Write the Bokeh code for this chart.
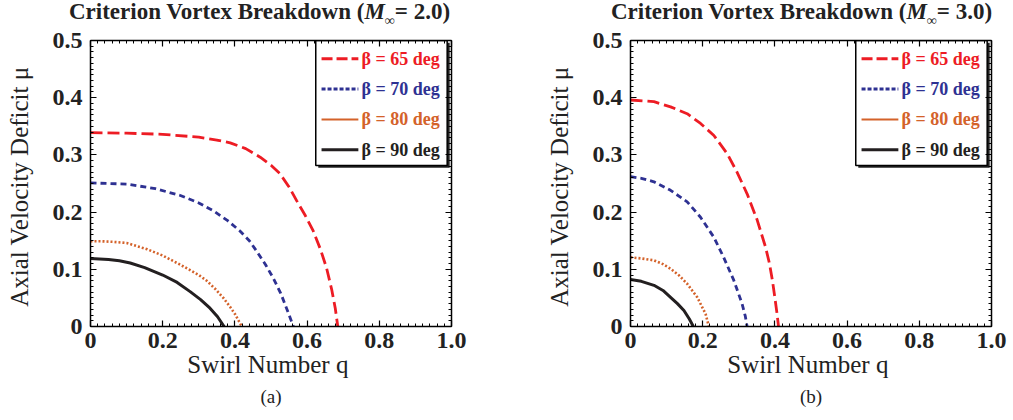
from bokeh.plotting import figure
from bokeh.layouts import row, column
from bokeh.models import LinearAxis, SingleIntervalTicker, CustomJSTickFormatter, Range1d, Title, Div
from bokeh.core.properties import value
from bokeh.embed import file_html
from bokeh.resources import INLINE

# ---------------- data ----------------
series_labels = ["β = 65 deg", "β = 70 deg", "β = 80 deg", "β = 90 deg"]
title_prefix = "Criterion Vortex Breakdown ("
title_mach = ["2.0", "3.0"]
captions = ["(a)", "(b)"]
x_label = "Swirl Number  q"
y_label = "Axial Velocity Deficit  μ"

# Panel (a): M = 2.0
a_q65 = [0.0, 0.10, 0.20, 0.30, 0.35, 0.387, 0.43, 0.47, 0.50, 0.525, 0.55, 0.571, 0.595, 0.617, 0.637, 0.654, 0.668, 0.678, 0.685]
a_mu65 = [0.339, 0.338, 0.336, 0.331, 0.326, 0.321, 0.311, 0.296, 0.282, 0.267, 0.244, 0.220, 0.194, 0.167, 0.135, 0.102, 0.065, 0.032, 0.0]
a_q70 = [0.0, 0.10, 0.18, 0.249, 0.30, 0.341, 0.38, 0.414, 0.44, 0.46, 0.485, 0.506, 0.527, 0.543, 0.555, 0.562]
a_mu70 = [0.251, 0.249, 0.241, 0.229, 0.216, 0.202, 0.185, 0.167, 0.150, 0.132, 0.108, 0.085, 0.058, 0.032, 0.012, 0.0]
a_q80 = [0.0, 0.03, 0.064, 0.10, 0.157, 0.20, 0.249, 0.30, 0.322, 0.345, 0.368, 0.387, 0.40, 0.419]
a_mu80 = [0.149, 0.149, 0.148, 0.146, 0.135, 0.124, 0.108, 0.090, 0.080, 0.066, 0.050, 0.034, 0.022, 0.0]
a_q90 = [0.0, 0.05, 0.08, 0.11, 0.15, 0.20, 0.24, 0.276, 0.305, 0.331, 0.352, 0.37]
a_mu90 = [0.119, 0.117, 0.115, 0.111, 0.103, 0.090, 0.077, 0.061, 0.047, 0.032, 0.017, 0.0]

# Panel (b): M = 3.0
b_q65 = [0.0, 0.065, 0.111, 0.157, 0.194, 0.231, 0.268, 0.295, 0.323, 0.351, 0.374, 0.385, 0.393, 0.40, 0.406, 0.41]
b_mu65 = [0.396, 0.393, 0.384, 0.372, 0.355, 0.334, 0.302, 0.270, 0.232, 0.186, 0.139, 0.110, 0.081, 0.050, 0.022, 0.0]
b_q70 = [0.0, 0.03, 0.065, 0.111, 0.157, 0.194, 0.231, 0.258, 0.286, 0.309, 0.318, 0.323]
b_mu70 = [0.262, 0.259, 0.253, 0.238, 0.218, 0.191, 0.156, 0.121, 0.081, 0.040, 0.018, 0.0]
b_q80 = [0.0, 0.03, 0.065, 0.09, 0.111, 0.135, 0.157, 0.185, 0.208, 0.217]
b_mu80 = [0.121, 0.119, 0.1156, 0.109, 0.101, 0.089, 0.0747, 0.051, 0.022, 0.0]
b_q90 = [0.0, 0.03, 0.065, 0.09, 0.111, 0.13, 0.148, 0.163, 0.174]
b_mu90 = [0.082, 0.079, 0.072, 0.063, 0.051, 0.040, 0.028, 0.013, 0.0]

panel_a = [(a_q65, a_mu65), (a_q70, a_mu70), (a_q80, a_mu80), (a_q90, a_mu90)]
panel_b = [(b_q65, b_mu65), (b_q70, b_mu70), (b_q80, b_mu80), (b_q90, b_mu90)]

# ---------------- styles ----------------
colors = ["#ed1c24", "#2e3192", "#d4622a", "#231f20"]
dashes = ["12 5", "6 4", "2 2", "solid"]
widths = [2.8, 2.8, 2.6, 3.0]
legend_dashes = ["11 4", "4 2", "solid", "solid"]
legend_widths = [3.0, 3.0, 2.0, 3.0]
FONT = "Liberation Serif"
TEXT_COLOR = "#222222"

# legend layout (data-space placement inside the frame)
LEG = dict(left=0.624, right=0.988, top=0.5, bottom=0.2815,
           x0=0.64, x1=0.742, xt=0.751, y_first=0.468, dy=0.053)

TITLE_H = 24            # height of the title strip above the figures
PANEL_H = 420 - TITLE_H
BORDERS = [(90, 30), (149, 20)]
TITLE_PAD = [69, 130]   # left padding that centres each title


def style_axis(ax, labels=True):
    ax.major_tick_in = 6
    ax.major_tick_out = 0
    ax.minor_tick_in = 3
    ax.minor_tick_out = 0
    ax.axis_line_width = 1.5
    ax.axis_line_color = "black"
    ax.major_tick_line_color = "black"
    ax.minor_tick_line_color = "black"
    ax.major_tick_line_width = 1.2
    ax.minor_tick_line_width = 1
    if labels:
        ax.formatter = CustomJSTickFormatter(code="return Math.abs(tick) < 1e-9 ? '0' : tick.toFixed(1);")
        ax.major_label_text_font = FONT
        ax.major_label_text_font_style = "bold"
        ax.major_label_text_font_size = "24px"
        ax.major_label_text_color = TEXT_COLOR
        ax.major_label_standoff = 6
        ax.axis_label_text_font = FONT
        ax.axis_label_text_font_style = "normal"
        ax.axis_label_text_font_size = "25px"
        ax.axis_label_text_color = TEXT_COLOR
    else:
        ax.formatter = CustomJSTickFormatter(code="return '';")
        ax.major_label_text_font_size = "0px"
        ax.major_label_standoff = 0


def make_title(idx, width):
    html = (f'<div style="font-family:\'{FONT}\'; font-size:23px; font-weight:bold; color:{TEXT_COLOR};'
            f' line-height:24px; text-align:center; white-space:nowrap; padding-left:{TITLE_PAD[idx]}px;">'
            f'{title_prefix}<i>M</i><sub style="font-size:14px; line-height:0;">∞</sub>= {title_mach[idx]})</div>')
    return Div(text=html, width=width, height=TITLE_H, margin=0)


def make_panel(idx, data):
    border_left, border_right = BORDERS[idx]
    width = border_left + 361 + border_right
    p = figure(width=width, height=PANEL_H, output_backend="svg", toolbar_location=None,
               x_range=Range1d(0, 1), y_range=Range1d(0, 0.5),
               min_border_left=border_left, min_border_right=border_right,
               min_border_top=40 - TITLE_H, min_border_bottom=94)
    p.grid.visible = False
    p.outline_line_color = None
    p.background_fill_color = "white"
    p.border_fill_color = "white"

    xt = SingleIntervalTicker(interval=0.2, num_minor_ticks=10)
    yt = SingleIntervalTicker(interval=0.1, num_minor_ticks=10)
    p.xaxis.ticker = xt
    p.yaxis.ticker = yt
    p.xaxis.axis_label = x_label
    p.yaxis.axis_label = y_label
    style_axis(p.xaxis[0])
    style_axis(p.yaxis[0])
    p.xaxis.axis_label_standoff = 0
    p.yaxis.major_label_standoff = 8
    p.yaxis.axis_label_standoff = 17

    top = LinearAxis(ticker=xt)
    right = LinearAxis(ticker=yt)
    style_axis(top, labels=False)
    style_axis(right, labels=False)
    p.add_layout(top, "above")
    p.add_layout(right, "right")

    p.add_layout(Title(text=captions[idx], align="center", standoff=6, text_font=FONT,
                       text_font_size="19px", text_font_style="normal",
                       text_color=TEXT_COLOR), "below")

    for (q, mu), c, d, w in zip(data, colors, dashes, widths):
        p.line(q, mu, line_color=c, line_dash=d, line_width=w)

    # legend box with shadow
    p.quad(left=[LEG["left"] + 0.007], right=[LEG["right"] + 0.007],
           top=[LEG["top"] - 0.004], bottom=[LEG["bottom"] - 0.004],
           fill_color="#222222", line_color=None)
    p.quad(left=[LEG["left"]], right=[LEG["right"]], top=[LEG["top"]], bottom=[LEG["bottom"]],
           fill_color="white", line_color="black", line_width=1.5)
    for i, (lab, c) in enumerate(zip(series_labels, colors)):
        yy = LEG["y_first"] - i * LEG["dy"]
        p.segment(x0=[LEG["x0"]], y0=[yy], x1=[LEG["x1"]], y1=[yy], line_color=c,
                  line_dash=legend_dashes[i], line_width=legend_widths[i])
        p.text(x=[LEG["xt"]], y=[yy], text=[lab], text_color=c, text_font=value(FONT),
               text_font_style="bold", text_font_size="18px",
               text_baseline="middle", text_align="left")
    return column(make_title(idx, width), p, spacing=0)


layout = row(make_panel(0, panel_a), make_panel(1, panel_b), spacing=0)

open("out.html", "w").write(file_html(layout, INLINE))
